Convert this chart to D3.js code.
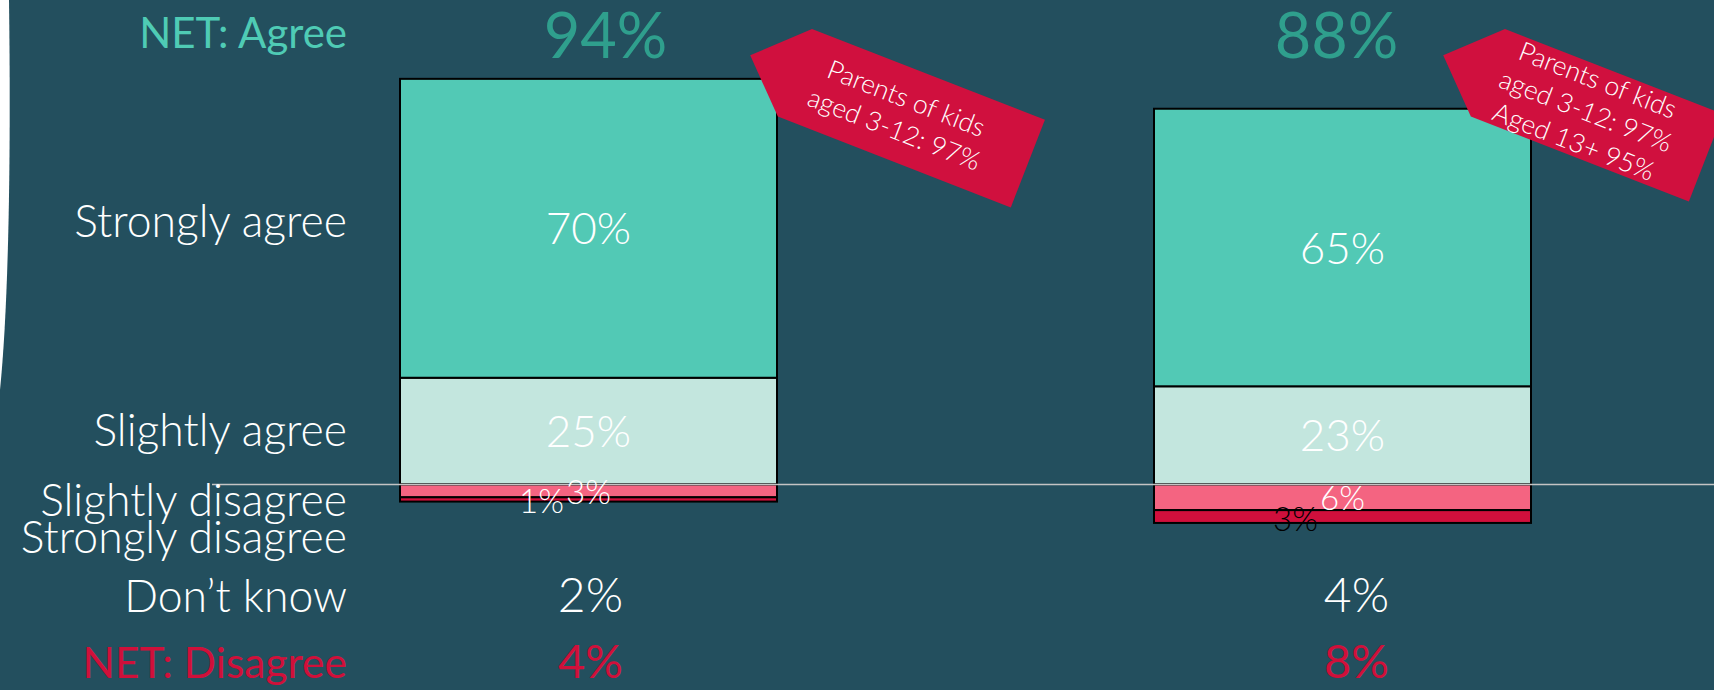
<!DOCTYPE html>
<html>
<head>
<meta charset="utf-8">
<script src="https://cdn.jsdelivr.net/npm/d3@7"></script>
<style>
  body { margin: 0; background: #234f5e; overflow: hidden; }
</style>
</head>
<body>
<svg id="chart"></svg>
<script>
// data
const groups = ["Group 1", "Group 2"];
const series = ["Strongly agree", "Slightly agree", "Slightly disagree", "Strongly disagree"];
const stronglyAgree = [70, 65];
const slightlyAgree = [25, 23];
const slightlyDisagree = [3, 6];
const stronglyDisagree = [1, 3];
const netAgree = [94, 88];
const dontKnow = [2, 4];
const netDisagree = [4, 8];
const rowLabels = ["NET: Agree", "Strongly agree", "Slightly agree", "Slightly disagree",
  "Strongly disagree", "Don’t know", "NET: Disagree"];
const calloutLines = [
  ["Parents of kids", "aged 3-12: 97%"],
  ["Parents of kids", "aged 3-12: 97%", "Aged 13+ 95%"]
];

const width = 1714, height = 690;
const font = "Lato, 'Open Sans', sans-serif";
const colors = {
  "Strongly agree": "#52c9b5",
  "Slightly agree": "#c3e6de",
  "Slightly disagree": "#f46481",
  "Strongly disagree": "#d10f3c"
};

const svg = d3.select("#chart")
    .attr("width", width)
    .attr("height", height)
    .attr("viewBox", [0, 0, width, height])
    .attr("font-family", font);

svg.append("rect").attr("width", width).attr("height", height).attr("fill", "#234f5e");

// white slide edge on the left
svg.append("path")
    .attr("d", "M0,0 L9,0 C11,150 9,300 0,390 Z")
    .attr("fill", "#ffffff");

const x = d3.scaleBand().domain(groups).range([400, 1531]).paddingInner(0.5);
const y = d3.scaleLinear().domain([0, 100]).range([484.5, 57.5]);

// diverging stack: agree goes up from 0, disagree goes down
const segments = [];
groups.forEach((g, i) => {
  segments.push({ g, i, key: "Slightly agree", v: slightlyAgree[i], y0: 0, y1: slightlyAgree[i] });
  segments.push({ g, i, key: "Strongly agree", v: stronglyAgree[i], y0: slightlyAgree[i], y1: slightlyAgree[i] + stronglyAgree[i] });
  segments.push({ g, i, key: "Slightly disagree", v: slightlyDisagree[i], y0: -slightlyDisagree[i], y1: 0 });
  segments.push({ g, i, key: "Strongly disagree", v: stronglyDisagree[i], y0: -slightlyDisagree[i] - stronglyDisagree[i], y1: -slightlyDisagree[i] });
});

svg.append("g")
    .attr("stroke", "#000")
    .attr("stroke-width", 2)
  .selectAll("rect")
  .data(segments)
  .join("rect")
    .attr("x", d => x(d.g))
    .attr("width", x.bandwidth())
    .attr("y", d => y(d.y1))
    .attr("height", d => y(d.y0) - y(d.y1))
    .attr("fill", d => colors[d.key]);

// zero line
svg.append("line")
    .attr("x1", 212).attr("x2", width)
    .attr("y1", y(0)).attr("y2", y(0))
    .attr("stroke", "#c4c4c4")
    .attr("stroke-width", 1.5);

// segment labels
const mid = d => (y(d.y0) + y(d.y1)) / 2;
const cx = d => x(d.g) + x.bandwidth() / 2;
const smallFill = ["#ffffff", "#000000"];
const isAgree = d => d.key === "Strongly agree" || d.key === "Slightly agree";

svg.append("g")
  .selectAll("text")
  .data(segments)
  .join("text")
    .attr("text-anchor", "middle")
    .attr("font-weight", 300)
    .attr("fill", d => d.key === "Strongly disagree" ? smallFill[d.i] : "#ffffff")
    .attr("font-size", d => isAgree(d) ? 44 : 33)
    .attr("x", d => d.key === "Strongly disagree" ? cx(d) - 47 : cx(d))
    .attr("y", d => {
      if (d.key === "Strongly disagree") return mid(d) + 14;
      if (d.key === "Slightly disagree") return mid(d) + 13;
      return mid(d) + 16;
    })
    .text(d => d.v + "%");

// row labels on the left
const rowLabelY = [48, 237, 446, 516, 553, 612, 678];
svg.append("g")
    .attr("text-anchor", "end")
  .selectAll("text")
  .data(rowLabels)
  .join("text")
    .attr("x", 347)
    .attr("y", (d, i) => rowLabelY[i])
    .attr("font-size", (d, i) => i === 0 ? 42 : i === 6 ? 42.5 : 44.5)
    .attr("font-weight", (d, i) => i === 0 || i === 6 ? 400 : 300)
    .attr("fill", (d, i) => i === 0 ? "#4fcbb5" : i === 6 ? "#d0103a" : "#ffffff")
    .text(d => d);

// totals
const netAgreeDx = [17, -6];
const bottomDx = [2, 14];
const totals = svg.append("g").attr("text-anchor", "middle");
totals.selectAll(".net-agree")
  .data(netAgree)
  .join("text")
    .attr("class", "net-agree")
    .attr("x", (d, i) => x(groups[i]) + x.bandwidth() / 2 + netAgreeDx[i])
    .attr("y", 58)
    .attr("font-size", 63)
    .attr("fill", "#2f9f8d")
    .text(d => d + "%");

totals.selectAll(".dont-know")
  .data(dontKnow)
  .join("text")
    .attr("class", "dont-know")
    .attr("x", (d, i) => x(groups[i]) + x.bandwidth() / 2 + bottomDx[i])
    .attr("y", 612)
    .attr("font-size", 48)
    .attr("font-weight", 300)
    .attr("fill", "#ffffff")
    .text(d => d + "%");

totals.selectAll(".net-disagree")
  .data(netDisagree)
  .join("text")
    .attr("class", "net-disagree")
    .attr("x", (d, i) => x(groups[i]) + x.bandwidth() / 2 + bottomDx[i])
    .attr("y", 678)
    .attr("font-size", 47)
    .attr("fill", "#d0103a")
    .text(d => d + "%");

// red callout tags
const calloutPos = [[812, 29], [1505, 29]];
const calloutLen = [250, 234];
const tagH = 94, angle = 21.3;

const callout = svg.append("g")
  .selectAll("g")
  .data(calloutLines)
  .join("g")
    .attr("transform", (d, i) => `translate(${calloutPos[i]}) rotate(${angle})`);

callout.append("path")
    .attr("d", (d, i) => {
      const L = calloutLen[i];
      return `M-48,${tagH / 2} L0,0 L${L},0 L${L},${tagH} L0,${tagH} Z`;
    })
    .attr("fill", "#d0103e");

callout.each(function(lines, i) {
  const L = calloutLen[i];
  d3.select(this).selectAll("text")
    .data(lines)
    .join("text")
      .attr("x", L / 2 - 12)
      .attr("y", (t, j) => tagH / 2 + (j - (lines.length - 1) / 2) * 33)
      .attr("dy", "0.35em")
      .attr("text-anchor", "middle")
      .attr("font-size", 26.5)
      .attr("font-weight", 300)
      .attr("fill", "#ffffff")
      .text(t => t);
});
</script>
</body>
</html>
